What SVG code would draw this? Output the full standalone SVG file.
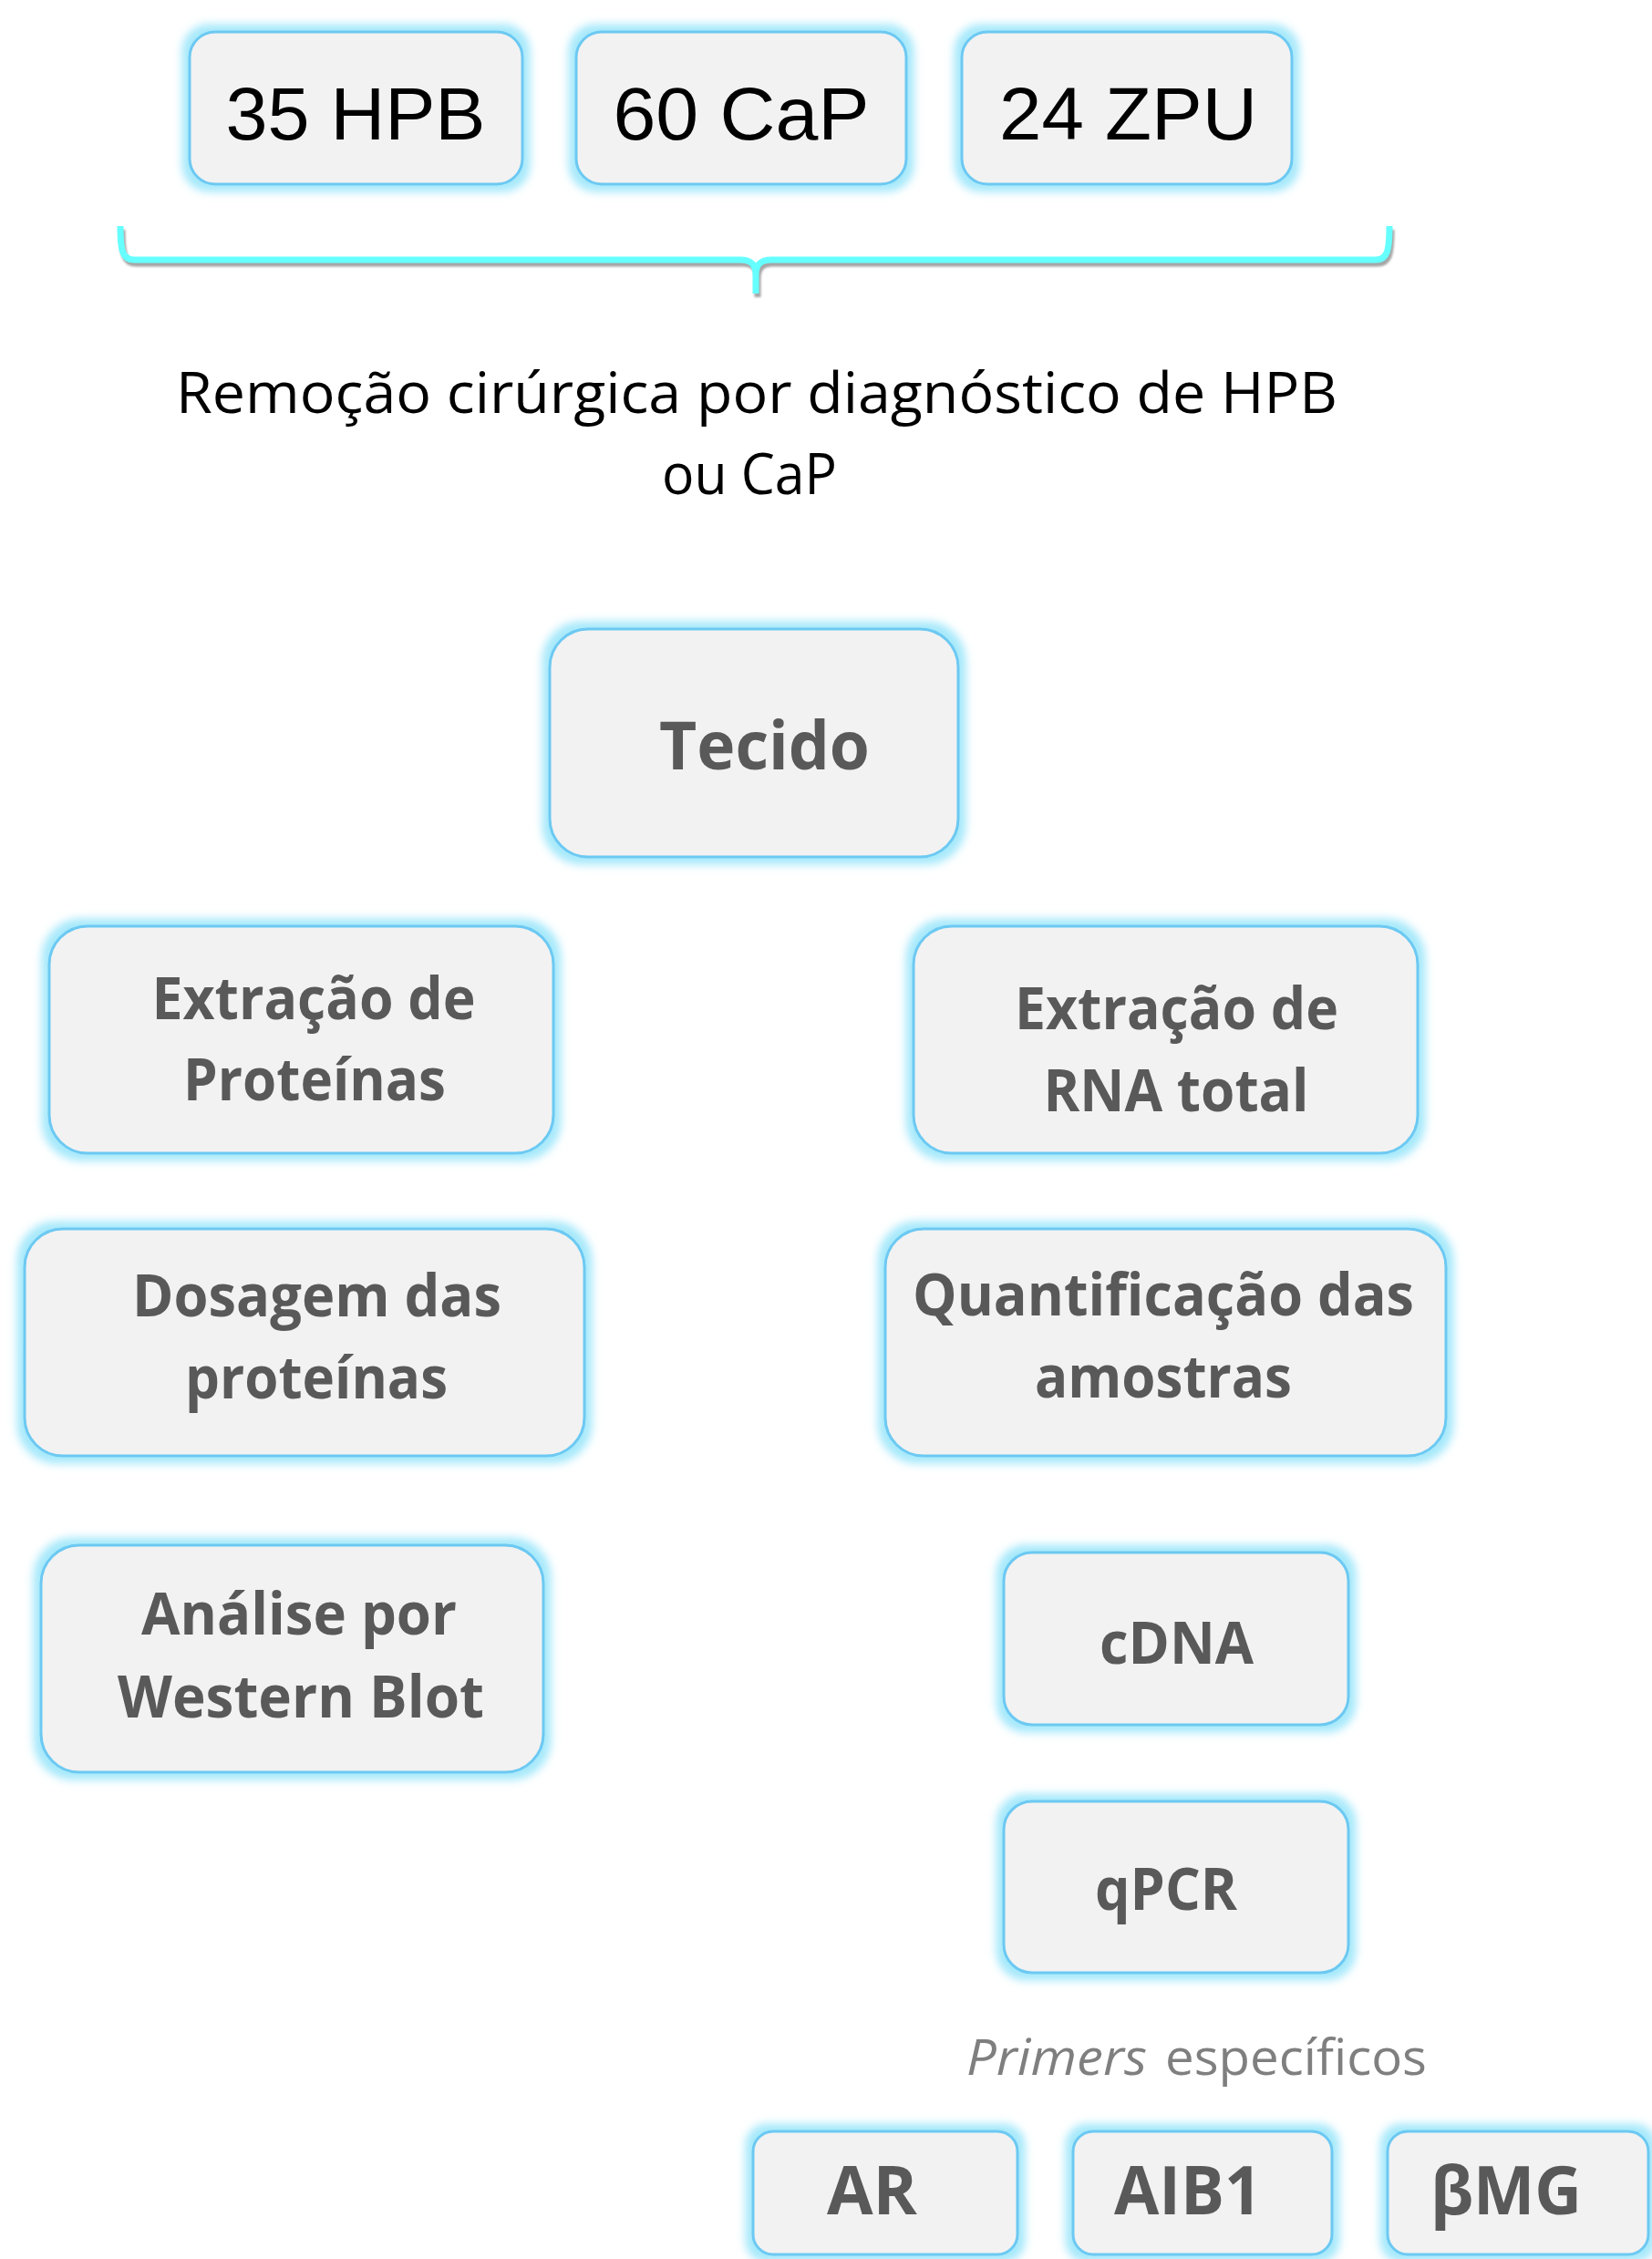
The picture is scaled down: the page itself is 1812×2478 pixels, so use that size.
<svg xmlns="http://www.w3.org/2000/svg" width="1812" height="2478" viewBox="0 0 1812 2478">
<defs>
<filter id="glow" x="-20%" y="-30%" width="140%" height="160%">
<feMorphology in="SourceAlpha" operator="dilate" radius="7" result="d"/>
<feGaussianBlur in="d" stdDeviation="5" result="b"/>
<feFlood flood-color="#8fe3fa" flood-opacity="0.8"/>
<feComposite in2="b" operator="in" result="g"/>
<feMerge><feMergeNode in="g"/><feMergeNode in="SourceGraphic"/></feMerge>
</filter>
<filter id="soft" x="-5%" y="-50%" width="110%" height="200%">
<feGaussianBlur stdDeviation="1.2"/>
</filter>
</defs>
<style>
text{font-variant-ligatures:none}
.box{fill:#f2f2f2;stroke:#6cc9f2;stroke-width:3;filter:url(#glow)}
.num{font-family:"Liberation Sans",Arial,sans-serif;font-size:82px;fill:#000;text-anchor:middle}
.lbl{font-family:"Open Sans","DejaVu Sans",sans-serif;font-weight:bold;font-size:64px;fill:#595959;text-anchor:middle}
.big{font-size:73px}
.rem{font-family:"Open Sans",sans-serif;font-size:63px;fill:#000;text-anchor:middle}
.pri{font-family:"Open Sans",sans-serif;font-size:54px;fill:#7f7f7f}
.brace{fill:none;stroke:#66ffff;stroke-width:7}
.braceShadow{fill:none;stroke:#a6a6a6;stroke-width:7;filter:url(#soft)}
</style>
<rect width="1812" height="2478" fill="#ffffff"/>

<g id="connectors">
<path class="braceShadow" transform="translate(2,4)" d="M132,248 C132,274 134,285 147,285 L812,285 C824,285 829,290 829,302 L829,322 M829,302 C829,290 834,285 846,285 L1509,285 C1522,285 1524,274 1524,248"/>
<path class="brace" d="M132,248 C132,274 134,285 147,285 L812,285 C824,285 829,290 829,302 L829,322 M829,302 C829,290 834,285 846,285 L1509,285 C1522,285 1524,274 1524,248"/>
</g>

<g id="n_hpb"><rect class="box" x="208" y="35" width="365" height="167" rx="28"/><text class="num" x="390" y="153" textLength="285" lengthAdjust="spacingAndGlyphs">35 HPB</text></g>
<g id="n_cap"><rect class="box" x="632" y="35" width="362" height="167" rx="28"/><text class="num" x="813" y="153" textLength="281" lengthAdjust="spacingAndGlyphs">60 CaP</text></g>
<g id="n_zpu"><rect class="box" x="1055" y="35" width="362" height="167" rx="28"/><text class="num" x="1237.5" y="153" textLength="283" lengthAdjust="spacingAndGlyphs">24 ZPU</text></g>

<g id="n_remocao">
<text class="rem" x="830" y="453" textLength="1274" lengthAdjust="spacingAndGlyphs">Remoção cirúrgica por diagnóstico de HPB</text>
<text class="rem" x="822" y="542" textLength="192" lengthAdjust="spacingAndGlyphs">ou CaP</text>
</g>

<g id="n_tecido"><rect class="box" x="603" y="690" width="448" height="250" rx="42"/><text class="lbl big" x="838.5" y="844" textLength="231" lengthAdjust="spacingAndGlyphs">Tecido</text></g>

<g id="n_extprot"><rect class="box" x="54" y="1016" width="553" height="249" rx="42"/>
<text class="lbl" x="344" y="1118" textLength="355" lengthAdjust="spacingAndGlyphs">Extração de</text>
<text class="lbl" x="345" y="1207" textLength="288" lengthAdjust="spacingAndGlyphs">Proteínas</text></g>

<g id="n_extrna"><rect class="box" x="1002" y="1016" width="553" height="249" rx="42"/>
<text class="lbl" x="1290.5" y="1129" textLength="355" lengthAdjust="spacingAndGlyphs">Extração de</text>
<text class="lbl" x="1290" y="1219" textLength="291" lengthAdjust="spacingAndGlyphs">RNA total</text></g>

<g id="n_dosagem"><rect class="box" x="27" y="1348" width="614" height="249" rx="42"/>
<text class="lbl" x="347.5" y="1443.5" textLength="405" lengthAdjust="spacingAndGlyphs">Dosagem das</text>
<text class="lbl" x="347" y="1533.5" textLength="288" lengthAdjust="spacingAndGlyphs">proteínas</text></g>

<g id="n_quant"><rect class="box" x="971" y="1348" width="615" height="249" rx="42"/>
<text class="lbl" x="1276" y="1443" textLength="550" lengthAdjust="spacingAndGlyphs">Quantificação das</text>
<text class="lbl" x="1276" y="1533" textLength="282" lengthAdjust="spacingAndGlyphs">amostras</text></g>

<g id="n_analise"><rect class="box" x="45" y="1695" width="551" height="249" rx="42"/>
<text class="lbl" x="328" y="1793" textLength="346" lengthAdjust="spacingAndGlyphs">Análise por</text>
<text class="lbl" x="330" y="1884" textLength="402" lengthAdjust="spacingAndGlyphs">Western Blot</text></g>

<g id="n_cdna"><rect class="box" x="1101" y="1703" width="378" height="189" rx="31"/><text class="lbl" x="1290.5" y="1825" textLength="169" lengthAdjust="spacingAndGlyphs">cDNA</text></g>

<g id="n_qpcr"><rect class="box" x="1101" y="1976" width="378" height="188" rx="31"/><text class="lbl" x="1279" y="2095" textLength="156" lengthAdjust="spacingAndGlyphs">qPCR</text></g>

<g id="n_primers">
<text class="pri" x="1060" y="2276" font-style="italic" textLength="198" lengthAdjust="spacingAndGlyphs">Primers</text>
<text class="pri" x="1278" y="2276" textLength="287" lengthAdjust="spacingAndGlyphs">específicos</text>
</g>

<g id="n_ar"><rect class="box" x="826" y="2338" width="290" height="135" rx="22"/><text class="lbl big" x="956.5" y="2429" textLength="99" lengthAdjust="spacingAndGlyphs">AR</text></g>
<g id="n_aib1"><rect class="box" x="1177" y="2338" width="284" height="135" rx="22"/><text class="lbl big" x="1303" y="2429" textLength="162" lengthAdjust="spacingAndGlyphs">AIB1</text></g>
<g id="n_bmg"><rect class="box" x="1522" y="2338" width="286" height="135" rx="22"/><text class="lbl big" x="1652" y="2429" textLength="166" lengthAdjust="spacingAndGlyphs">βMG</text></g>
</svg>
